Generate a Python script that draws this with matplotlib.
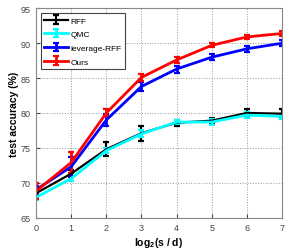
import matplotlib
matplotlib.use('Agg')
import matplotlib.pyplot as plt

plt.rcParams['font.family'] = ['Liberation Sans', 'DejaVu Sans']
plt.rcParams['mathtext.fontset'] = 'custom'
plt.rcParams['mathtext.rm'] = 'Liberation Sans:bold'
plt.rcParams['mathtext.it'] = 'Liberation Sans:bold'

x = [0, 1, 2, 3, 4, 5, 6, 7]

rff = [68.5, 71.3, 74.8, 77.1, 78.6, 78.9, 80.0, 79.9]
rff_err = [0.6, 0.5, 1.0, 1.1, 0.4, 0.4, 0.6, 0.6]

qmc = [67.9, 70.6, 74.6, 77.0, 78.7, 78.7, 79.7, 79.5]
qmc_err = [0.4, 0.4, 0.4, 0.5, 0.3, 0.4, 0.4, 0.4]

lev = [69.0, 72.3, 79.0, 83.8, 86.3, 88.0, 89.2, 90.0]
lev_err = [0.6, 1.4, 0.8, 0.6, 0.5, 0.4, 0.4, 0.4]

ours = [68.8, 72.9, 80.0, 85.1, 87.6, 89.7, 90.9, 91.4]
ours_err = [1.1, 1.5, 0.5, 0.5, 0.4, 0.3, 0.3, 0.3]

fig = plt.figure(figsize=(2.91, 2.53), dpi=100)
ax = fig.add_axes([0.124, 0.136, 0.845, 0.827])

ax.errorbar(x, rff, yerr=rff_err, color='black', lw=1.6, capsize=2.5, capthick=1.6, label='RFF')
ax.errorbar(x, qmc, yerr=qmc_err, color='cyan', lw=2, capsize=2.5, capthick=1.6, label='QMC')
ax.errorbar(x, lev, yerr=lev_err, color='blue', lw=2, capsize=2.5, capthick=1.6, label='leverage-RFF')
ax.errorbar(x, ours, yerr=ours_err, color='red', lw=2, capsize=2.5, capthick=1.6, label='Ours')

ax.set_xlim(0, 7)
ax.set_ylim(65, 95)
ax.set_xticks(x)
ax.set_yticks([65, 70, 75, 80, 85, 90, 95])
ax.tick_params(direction='in', labelsize=6.5, colors='#444444', length=3, pad=4)
ax.grid(True, linestyle=':', color='#999999', lw=0.7)
for s in ax.spines.values():
    s.set_color('#888888')

ax.set_xlabel(r'log$_2$(s / d)', fontsize=7.5, fontweight='bold', labelpad=2)
ax.set_ylabel('test accuracy (%)', fontsize=7.5, fontweight='bold', labelpad=1)

leg = ax.legend(loc='upper left', fontsize=6, fancybox=False, framealpha=1,
                edgecolor='#444444', handlelength=2.8, borderpad=0.4, labelspacing=0.7,
                handletextpad=0.3, borderaxespad=0.6)
leg.get_frame().set_linewidth(0.8)

fig.savefig('out.png', dpi=100)
